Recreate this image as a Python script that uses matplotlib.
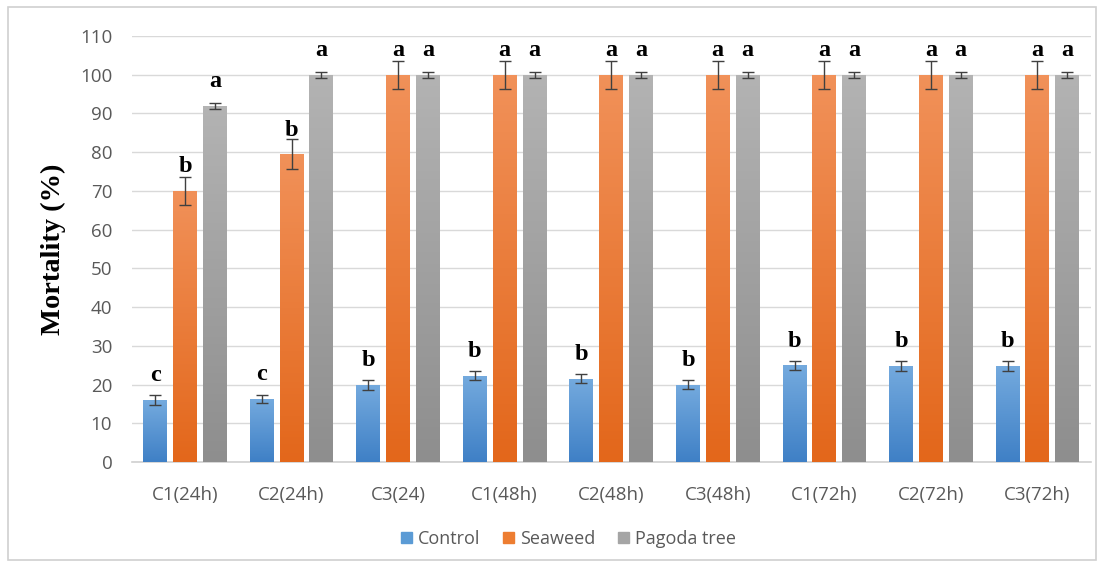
import numpy as np
import matplotlib.pyplot as plt
from matplotlib.colors import LinearSegmentedColormap
from matplotlib.patches import Rectangle

groups = ['C1(24h)', 'C2(24h)', 'C3(24)', 'C1(48h)', 'C2(48h)', 'C3(48h)',
          'C1(72h)', 'C2(72h)', 'C3(72h)']
series = ['Control', 'Seaweed', 'Pagoda tree']

control = [16.0, 16.3, 20.0, 22.3, 21.5, 20.0, 25.0, 24.8, 24.8]
seaweed = [70.0, 79.5, 100, 100, 100, 100, 100, 100, 100]
pagoda = [92.0, 100, 100, 100, 100, 100, 100, 100, 100]

control_err = [1.2, 1.1, 1.3, 1.2, 1.1, 1.1, 1.2, 1.2, 1.2]
seaweed_err = [3.6, 3.8, 3.6, 3.6, 3.6, 3.6, 3.6, 3.6, 3.6]
pagoda_err = [0.8, 0.8, 0.8, 0.8, 0.8, 0.8, 0.8, 0.8, 0.8]

control_lbl = ['c', 'c', 'b', 'b', 'b', 'b', 'b', 'b', 'b']
seaweed_lbl = ['b', 'b', 'a', 'a', 'a', 'a', 'a', 'a', 'a']
pagoda_lbl = ['a', 'a', 'a', 'a', 'a', 'a', 'a', 'a', 'a']

# top / bottom colours for the gradient fill
grads = [('#74aade', '#3f80c6'), ('#f19159', '#e3671b'), ('#b3b3b3', '#8e8e8e')]
solid = ['#5b9bd5', '#ed7d31', '#a5a5a5']

fig = plt.figure(figsize=(11.04, 5.67), dpi=100)
fig.patches.append(Rectangle((0.007, 0.012), 0.986, 0.975, transform=fig.transFigure,
                             fill=False, edgecolor='#d0d0d0', linewidth=1.2))
ax = fig.add_axes([0.1193, 0.1852, 0.8687, 0.7513])

x = np.arange(len(groups))
step = 0.28
width = 0.225
values = [control, seaweed, pagoda]
errs = [control_err, seaweed_err, pagoda_err]
lbls = [control_lbl, seaweed_lbl, pagoda_lbl]

for k in range(3):
    pos = x + (k - 1) * step
    bars = ax.bar(pos, values[k], width, color='none', edgecolor='none', zorder=3)
    cmap = LinearSegmentedColormap.from_list('g%d' % k, [grads[k][1], grads[k][0]])
    for b in bars:
        h = b.get_height()
        grad = np.linspace(0, 1, 100).reshape(-1, 1)
        im = ax.imshow(grad, cmap=cmap, aspect='auto', origin='lower',
                       extent=(b.get_x(), b.get_x() + b.get_width(), 0, h), zorder=3)
        im.set_clip_path(b)
    ax.errorbar(pos, values[k], yerr=errs[k], fmt='none', ecolor='#404040',
                elinewidth=1, capsize=4, capthick=1, zorder=4)
    for p, v, t in zip(pos, values[k], lbls[k]):
        ax.text(p, v + 4.8, t, ha='center', va='baseline', fontsize=17.5,
                fontweight='bold', family='Liberation Serif', zorder=5)

ax.set_xlim(-0.5, len(groups) - 0.5)
ax.set_ylim(0, 110)
ax.set_yticks(range(0, 111, 10))
ax.set_xticks(x)
ax.set_xticklabels(groups)
ax.tick_params(length=0, labelsize=13.5, labelcolor='#595959')
for lab in ax.get_xticklabels() + ax.get_yticklabels():
    lab.set_family('Open Sans')
ax.tick_params(axis='x', pad=17)
ax.tick_params(axis='y', pad=14)
ax.grid(axis='y', color='#d9d9d9', linewidth=1, zorder=0)
ax.set_axisbelow(True)
for s in ['top', 'right', 'left']:
    ax.spines[s].set_visible(False)
ax.spines['bottom'].set_color('#d0d0d0')
ax.spines['bottom'].set_linewidth(1.2)

ax.set_ylabel('Mortality (%)', fontsize=20.5, fontweight='bold', family='Liberation Serif',
              labelpad=10)

handles = [Rectangle((0, 0), 1, 1, color=c) for c in solid]
leg = fig.legend(handles, series, loc='center', bbox_to_anchor=(0.515, 0.05), ncol=3,
                 frameon=False, handlelength=0.6, handleheight=0.6, handletextpad=0.3,
                 columnspacing=1.3, prop={'family': 'Open Sans', 'size': 13})
for t in leg.get_texts():
    t.set_color('#595959')

fig.savefig('out.png', dpi=100)
